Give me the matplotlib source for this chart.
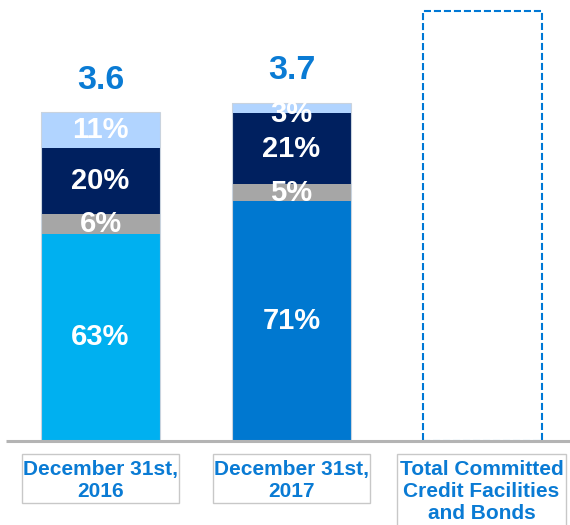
import matplotlib
matplotlib.use("Agg")
import matplotlib.pyplot as plt
from matplotlib.patches import Rectangle

# ============================================================
# Data
# ============================================================

categories = ["December 31st,\n2016", "December 31st,\n2017",
              "Total Committed\nCredit Facilities\nand Bonds"]
totals = [3.6, 3.7]
total_labels = ["3.6", "3.7"]
committed_total = 4.71

# shares (%) from bottom to top
share_main = [63, 71]
share_gray = [6, 5]
share_navy = [20, 21]
share_pale = [11, 3]

main_colors = ["#00B0F0", "#0078D0"]
gray_color = "#A6A6A6"
navy_color = "#00205F"
pale_color = "#B1D4FF"
text_blue = "#0A7BD4"

plt.rcParams["font.family"] = ["Liberation Sans", "DejaVu Sans"]

# ============================================================
# Figure
# ============================================================

fig = plt.figure(figsize=(5.7, 5.25), dpi=100)
ax = fig.add_axes([0, 0, 1, 1])
ax.set_xlim(-0.526, 2.458)
ax.set_ylim(-0.92, 4.83)
ax.axis("off")

width = 0.623
x = [0, 1]

for i in x:
    t = totals[i]
    segs = [(share_main[i], main_colors[i]),
            (share_gray[i], gray_color),
            (share_navy[i], navy_color),
            (share_pale[i], pale_color)]
    bottom = 0
    for pct, col in segs:
        h = t * pct / 100.0
        ax.bar(i, h, width=width, bottom=bottom, color=col,
               edgecolor="none", zorder=2)
        yc = bottom + h / 2
        if pct < 4:
            yc = bottom + h / 2 - 0.06
        ax.text(i, yc, f"{pct}%", ha="center", va="center",
                color="white", fontsize=21, fontweight="bold", zorder=3)
        bottom += h
    # thin outline around bar
    ax.add_patch(Rectangle((i - width / 2, 0), width, t, fill=False,
                           edgecolor="#C9D3DE", lw=0.8, zorder=2.5))
    ax.text(i, t + 0.26, total_labels[i], ha="center", va="baseline",
            color=text_blue, fontsize=24.5, fontweight="bold")

# dashed empty bar
ax.add_patch(Rectangle((2 - width / 2, 0), width, committed_total,
                       fill=False, edgecolor="#0078D4", lw=1.5,
                       linestyle=(0, (3.4, 1.4)), zorder=2))

# baseline
ax.plot([-0.496, 2.458], [0, 0], color="#B4B4B4", lw=2.2,
        solid_capstyle="butt", zorder=4)

# category label boxes
box_specs = [(-0.4126, 0.823, -0.679), (-0.4126, 0.823, -0.679),
             (-0.448, 0.885, -1.2)]
for i, lab in enumerate(categories):
    left, w, bot = box_specs[i]
    top = -0.142
    ax.add_patch(Rectangle((i + left, bot), w, top - bot, fill=False,
                           edgecolor="#C8C8C8", lw=1.0, zorder=2))
    ax.text(i + left + w / 2, top - 0.065, lab, ha="center", va="top",
            color=text_blue, fontsize=15, fontweight="bold",
            linespacing=1.2)

fig.savefig("out.png", dpi=100)
